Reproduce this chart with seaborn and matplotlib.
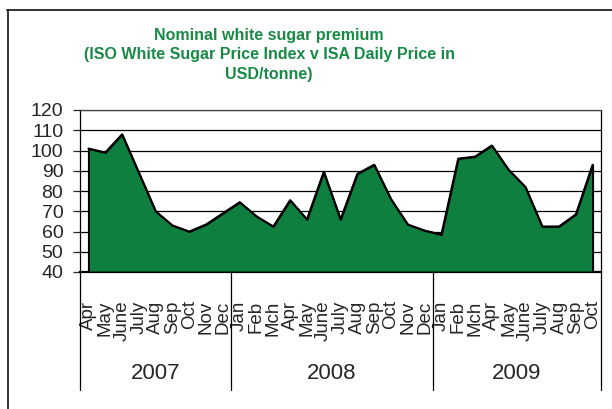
# Nominal white sugar premium - area chart, Apr 2007 to Oct 2009
import numpy as np
import pandas as pd
import seaborn as sns
import matplotlib.pyplot as plt
from matplotlib.lines import Line2D

# Month labels, grouped by year
months_2007 = ['Apr', 'May', 'June', 'July', 'Aug', 'Sep', 'Oct', 'Nov', 'Dec']
months_2008 = ['Jan', 'Feb', 'Mch', 'Apr', 'May', 'June', 'July', 'Aug', 'Sep',
               'Oct', 'Nov', 'Dec']
months_2009 = ['Jan', 'Feb', 'Mch', 'Apr', 'May', 'June', 'July', 'Aug', 'Sep', 'Oct']
years = ['2007', '2008', '2009']

# Premium in USD/tonne
premium_2007 = [101, 99, 108, 89, 70, 63, 60, 63.5, 69]
premium_2008 = [74.5, 67.5, 62.5, 75.5, 66, 89.5, 66, 88.5, 93, 76, 63.5, 60.5]
premium_2009 = [58.5, 96, 97, 102.5, 90.5, 82, 62.5, 62.5, 68.5, 93]

months = months_2007 + months_2008 + months_2009
premium = premium_2007 + premium_2008 + premium_2009
year_sizes = [len(months_2007), len(months_2008), len(months_2009)]

df = pd.DataFrame({'idx': np.arange(len(months)), 'month': months, 'premium': premium})

sns.set_style('white')
plt.rcParams['font.family'] = ['Liberation Sans', 'DejaVu Sans']

green = '#0e7f3f'

fig = plt.figure(figsize=(6.12, 4.09), dpi=100)
ax = fig.add_axes([80 / 612, 137 / 409, 521 / 612, 162 / 409])

# filled area + outline
ax.fill_between(df['idx'], 40, df['premium'], facecolor=green, edgecolor='black',
                linewidth=1.4, zorder=3)
sns.lineplot(data=df, x='idx', y='premium', color='black', linewidth=1.4, ax=ax, zorder=4)

ax.set_xlim(-0.5, len(months) - 0.5)
ax.set_ylim(40, 120)
ax.set_yticks(range(40, 121, 10))
ax.yaxis.grid(True, color='black', linewidth=0.9)
ax.set_axisbelow(True)
ax.tick_params(axis='y', left=True, length=5, width=0.9, pad=7, labelsize=14)

ax.set_xticks(df['idx'])
ax.set_xticklabels(months, rotation=90, va='top', ha='center', fontsize=13.5)
ax.tick_params(axis='x', bottom=False, pad=17)
ax.set_xlabel('')
ax.set_ylabel('')

for side in ['left', 'right', 'top']:
    ax.spines[side].set_color('black')
    ax.spines[side].set_linewidth(0.9)
ax.spines['top'].set_color('#444444')
ax.spines['bottom'].set_color('black')
ax.spines['bottom'].set_linewidth(1.6)

# year group dividers and labels below the axis
trans = ax.get_xaxis_transform()
bounds = np.concatenate([[0], np.cumsum(year_sizes)]) - 0.5
for b in bounds:
    ax.plot([b, b], [0, -0.73], color='black', linewidth=0.9, transform=trans,
            clip_on=False)
for i, yr in enumerate(years):
    ax.text((bounds[i] + bounds[i + 1]) / 2, -0.625, yr, transform=trans,
            ha='center', va='center', fontsize=16)

# title
fig.text(269 / 612, 1 - 55 / 409,
         'Nominal white sugar premium\n(ISO White Sugar Price Index v ISA Daily Price in\nUSD/tonne)',
         ha='center', va='center', color='#178a45', fontsize=11.5, fontweight='bold',
         linespacing=1.35)

# outer chart border (left and top edges visible)
fig.add_artist(Line2D([7.5 / 612, 7.5 / 612], [0, 1 - 9.5 / 409], color='#222222',
                      linewidth=1.3, transform=fig.transFigure))
fig.add_artist(Line2D([7 / 612, 1], [1 - 9.5 / 409, 1 - 9.5 / 409], color='#222222',
                      linewidth=1.3, transform=fig.transFigure))

fig.savefig('out.png', dpi=100)
